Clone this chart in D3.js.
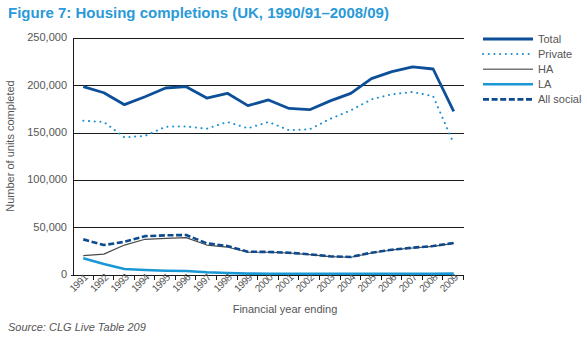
<!DOCTYPE html>
<html>
<head>
<meta charset="utf-8">
<script src="https://cdn.jsdelivr.net/npm/d3@7"></script>
<style>
  body { margin: 0; background: #fff; }
  svg { font-family: "Liberation Sans", Arial, sans-serif; display: block; }
  .grid line { stroke: #1a1a1a; stroke-width: 1; shape-rendering: crispEdges; }
  .tick-label { fill: #555; font-size: 11px; }
  .year-label { fill: #555; font-size: 10px; letter-spacing: -0.4px; }
  .legend text { fill: #555; font-size: 11px; }
</style>
</head>
<body>
<div id="chart"></div>
<script>
// financial year ending
const years = ["1991", "1992", "1993", "1994", "1995", "1996", "1997", "1998", "1999", "2000",
  "2001", "2002", "2003", "2004", "2005", "2006", "2007", "2008", "2009"];

const total = [198000, 191600, 179000, 187400, 196600, 198000, 186000, 191000, 178000, 184000,
  175000, 173700, 183000, 191000, 206500, 214000, 219000, 216700, 172000];
const privateSector = [162000, 160700, 144500, 146000, 155700, 156000, 153600, 160700, 154000, 160700,
  152000, 153000, 164000, 173000, 184600, 190000, 192400, 188000, 138000];
const ha = [19400, 21000, 30600, 36700, 37700, 38400, 30600, 28500, 23000, 23000,
  22200, 20500, 18400, 17700, 22200, 25400, 27500, 29200, 32400];
const la = [16600, 10600, 5300, 4200, 3500, 3200, 1800, 1000, 400, 300,
  300, 300, 300, 300, 300, 300, 300, 300, 400];
const allSocial = [36600, 30600, 34000, 40000, 40900, 41200, 32500, 29600, 23600, 23300,
  22500, 20800, 18700, 18000, 22500, 25700, 27800, 29600, 32800];

const yTicks = [0, 50000, 100000, 150000, 200000, 250000];

const series = [
  { name: "LA", values: la, color: "#1a98d5", width: 2.6, dash: null },
  { name: "HA", values: ha, color: "#4a4a4a", width: 1.2, dash: null },
  { name: "All social", values: allSocial, color: "#0d4a8f", width: 2.6, dash: "6,2.6" },
  { name: "Private", values: privateSector, color: "#1a8fd0", width: 2, dash: "0.1,5.6" },
  { name: "Total", values: total, color: "#0d4f98", width: 2.8, dash: null }
];
const legendOrder = ["Total", "Private", "HA", "LA", "All social"];

const W = 587, H = 338;
const margin = { top: 37.5, right: 123, bottom: 64, left: 73 };
const plotW = W - margin.left - margin.right;
const plotH = H - margin.top - margin.bottom;

const svg = d3.select("#chart").append("svg")
  .attr("width", W)
  .attr("height", H);

// title
svg.append("text")
  .attr("x", 8)
  .attr("y", 18)
  .attr("fill", "#2a9ad8")
  .attr("font-size", "15px")
  .attr("font-weight", "bold")
  .text("Figure 7: Housing completions (UK, 1990/91–2008/09)");

const g = svg.append("g")
  .attr("transform", `translate(${margin.left},${margin.top})`);

const x = d3.scaleBand().domain(years).range([0, plotW]);
const y = d3.scaleLinear().domain([0, 250000]).range([plotH, 0]);

// horizontal gridlines
g.append("g").attr("class", "grid")
  .selectAll("line")
  .data(yTicks.filter(d => d > 0))
  .join("line")
  .attr("x1", 0).attr("x2", plotW)
  .attr("y1", d => Math.round(y(d)) + 0.5)
  .attr("y2", d => Math.round(y(d)) + 0.5);

// y tick labels
g.append("g")
  .selectAll("text")
  .data(yTicks)
  .join("text")
  .attr("class", "tick-label")
  .attr("x", -6)
  .attr("y", d => y(d))
  .attr("dy", "0.35em")
  .attr("text-anchor", "end")
  .text(d => d3.format(",")(d));

// left axis and baseline
const base = Math.round(y(0)) + 0.5;
g.append("line")
  .attr("x1", 0.5).attr("x2", 0.5)
  .attr("y1", 0).attr("y2", base)
  .attr("stroke", "#1a1a1a").attr("shape-rendering", "crispEdges");
g.append("line")
  .attr("x1", -2).attr("x2", plotW)
  .attr("y1", base).attr("y2", base)
  .attr("stroke", "#1a1a1a").attr("shape-rendering", "crispEdges");

// x ticks on band edges
g.append("g")
  .selectAll("line")
  .data(years.slice(1).concat(["end"]))
  .join("line")
  .attr("x1", d => Math.round(d === "end" ? plotW : x(d)) - 0.5)
  .attr("x2", d => Math.round(d === "end" ? plotW : x(d)) - 0.5)
  .attr("y1", base).attr("y2", base + 5)
  .attr("stroke", "#1a1a1a").attr("shape-rendering", "crispEdges");

// x tick labels, rotated
g.append("g")
  .selectAll("text")
  .data(years)
  .join("text")
  .attr("class", "year-label")
  .attr("text-anchor", "end")
  .attr("transform", d => `translate(${x(d) + x.bandwidth() / 2 + 5},${plotH + 4}) rotate(-45)`)
  .text(d => d);

// axis titles
svg.append("text")
  .attr("x", 285)
  .attr("y", 313)
  .attr("text-anchor", "middle")
  .attr("fill", "#555")
  .attr("font-size", "11px")
  .text("Financial year ending");

svg.append("text")
  .attr("transform", "translate(14,146) rotate(-90)")
  .attr("text-anchor", "middle")
  .attr("fill", "#555")
  .attr("font-size", "11px")
  .text("Number of units completed");

svg.append("text")
  .attr("x", 8)
  .attr("y", 331)
  .attr("fill", "#555")
  .attr("font-size", "11px")
  .attr("font-style", "italic")
  .text("Source: CLG Live Table 209");

// series lines
const line = d3.line()
  .x((d, i) => x(years[i]) + x.bandwidth() / 2)
  .y(d => y(d));

g.append("g")
  .selectAll("path")
  .data(series)
  .join("path")
  .attr("d", d => line(d.values))
  .attr("fill", "none")
  .attr("stroke", d => d.color)
  .attr("stroke-width", d => d.width)
  .attr("stroke-dasharray", d => d.dash)
  .attr("stroke-linecap", d => d.name === "Private" ? "round" : "butt")
  .attr("stroke-linejoin", "round");

// legend
const legend = svg.append("g").attr("class", "legend")
  .attr("transform", "translate(483,39)");
const legendRows = legend.selectAll("g")
  .data(legendOrder.map(n => series.find(s => s.name === n)))
  .join("g")
  .attr("transform", (d, i) => `translate(0,${i * 15.1})`);
legendRows.append("line")
  .attr("x1", 0).attr("x2", 50)
  .attr("stroke", d => d.name === "HA" ? "#777" : d.color)
  .attr("stroke-width", d => d.name === "HA" ? 1.6 : d.width)
  .attr("stroke-dasharray", d => d.dash)
  .attr("stroke-linecap", d => d.name === "Private" ? "round" : "butt");
legendRows.append("text")
  .attr("x", 55)
  .attr("dy", "0.35em")
  .text(d => d.name);
</script>
</body>
</html>
